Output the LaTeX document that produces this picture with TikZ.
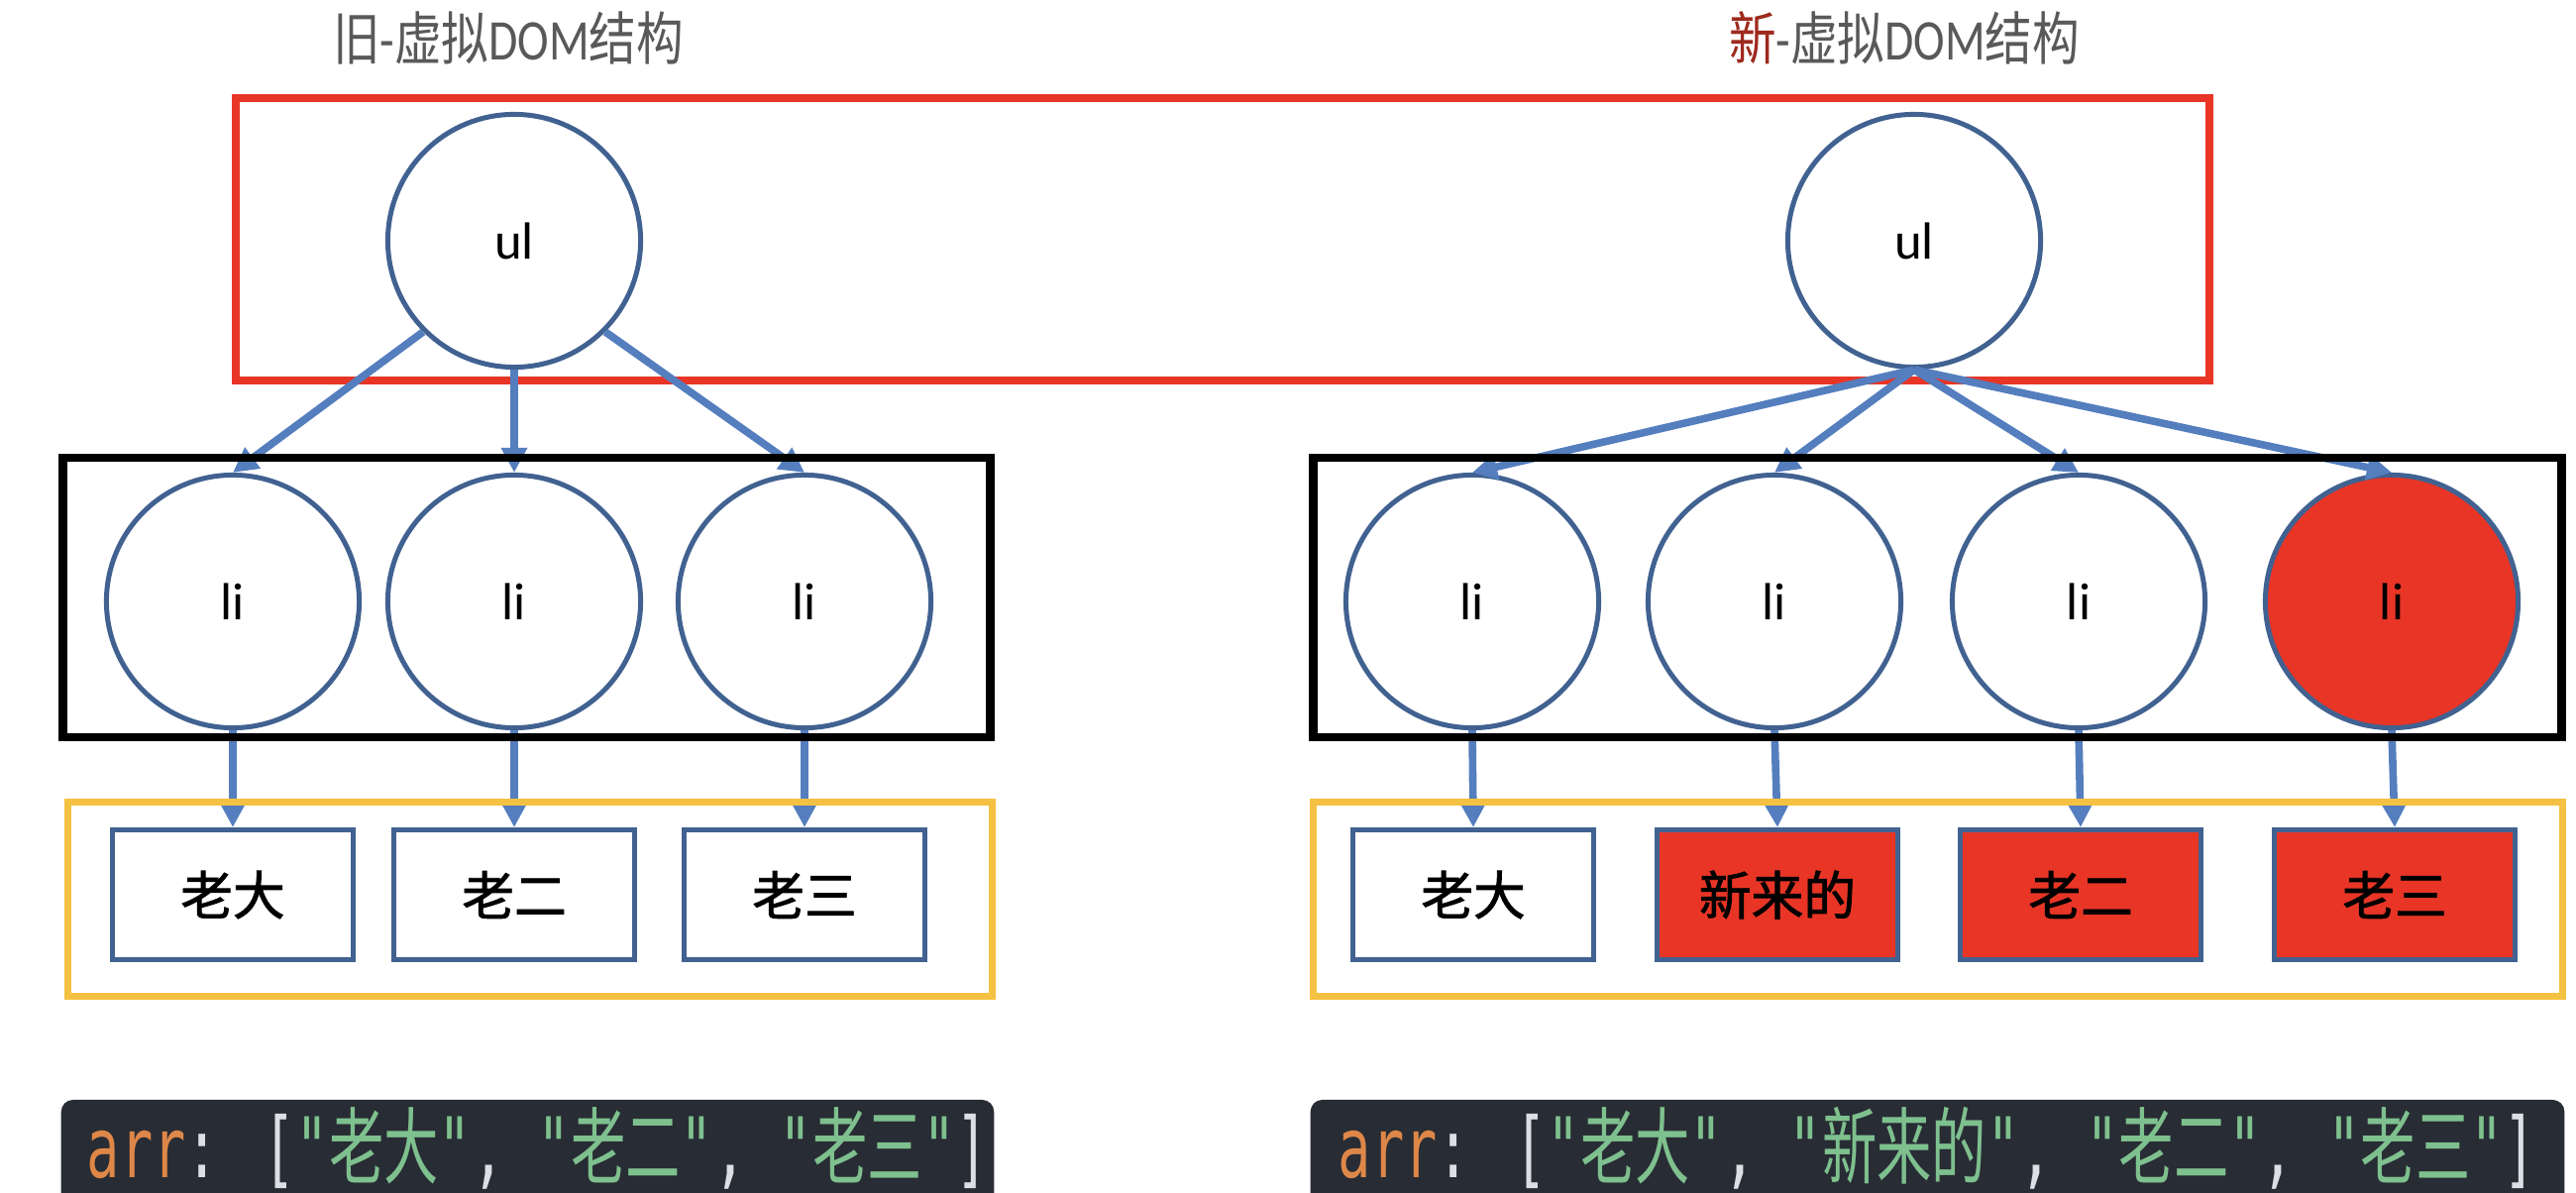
\documentclass[tikz,border=0pt]{standalone}
\usepackage{fontspec}
\setmainfont{Carlito}
\newfontfamily\cjk{Noto Sans CJK SC}
\newfontfamily\cjkbold[FakeBold=1.6]{Noto Sans CJK SC}
\newfontfamily\codemono{DejaVu Sans Mono}
\usetikzlibrary{arrows.meta}
\definecolor{nodeblue}{RGB}{65,98,145}
\definecolor{linkblue}{RGB}{84,126,190}
\definecolor{hotred}{RGB}{232,53,38}
\definecolor{gold}{RGB}{245,193,66}
\definecolor{titlegray}{RGB}{89,89,89}
\definecolor{newred}{RGB}{158,42,30}
\definecolor{codebgc}{RGB}{40,44,52}
\definecolor{codeorange}{RGB}{222,135,72}
\definecolor{codegreen}{RGB}{126,192,142}
\definecolor{codewhite}{RGB}{220,223,228}
\begin{document}
\begin{tikzpicture}[x=0.01cm,y=-0.01cm,
  frame/.style={draw, rectangle, inner sep=0pt, fill=none},
  treenode/.style={circle, draw=nodeblue, line width=0.05cm, fill=white, minimum size=2.55cm, inner sep=0pt, font=\fontsize{15}{18}\selectfont},
  valbox/.style={rectangle, draw=nodeblue, line width=0.05cm, fill=white, minimum width=2.43cm, minimum height=1.31cm, inner sep=0pt, font=\cjkbold\fontsize{15}{18}\selectfont},
  link/.style={draw=linkblue, line width=0.076cm, -{Triangle[width=0.25cm,length=0.25cm]}},
  title/.style={text=titlegray, inner sep=0pt, font=\fontsize{16.5}{19}\selectfont},
  codebg/.style={rectangle, fill=codebgc, rounded corners=0.12cm, inner sep=0pt, minimum height=1.6cm},
  codetext/.style={inner sep=0pt, text=codewhite, font=\codemono\fontsize{24}{28}\selectfont}
]
\useasboundingbox[fill=white] (0,0) rectangle (2600,1204);

% titles
\node[title] (oldtitle) at (513,38) {\scalebox{0.82}[1]{{\cjk 旧}-{\cjk 虚拟}DOM{\cjk 结构}}};
\node[title] (newtitle) at (1922,38) {\scalebox{0.82}[1]{{\cjk\color{newred}新}-{\cjk 虚拟}DOM{\cjk 结构}}};

% red frame
\node[frame, draw=hotred, line width=0.08cm, minimum width=19.90cm, minimum height=2.85cm] (rootframe) at (1234,241.5) {};

% old tree
\node[treenode] (oldul) at (519,243) {ul};
\node[treenode] (oldli1) at (235,607) {li};
\node[treenode] (oldli2) at (519,607) {li};
\node[treenode] (oldli3) at (812,607) {li};
\node[valbox] (oldv1) at (235,903) {老大};
\node[valbox] (oldv2) at (519,903) {老二};
\node[valbox] (oldv3) at (812,903) {老三};

% new tree
\node[treenode] (newul) at (1932,243) {ul};
\node[treenode] (newli1) at (1486,607) {li};
\node[treenode] (newli2) at (1791,607) {li};
\node[treenode] (newli3) at (2098,607) {li};
\node[treenode, fill=hotred] (newli4) at (2414,607) {li};
\node[valbox] (newv1) at (1487,903) {老大};
\node[valbox, fill=hotred] (newv2) at (1794,903) {新来的};
\node[valbox, fill=hotred] (newv3) at (2100,903) {老二};
\node[valbox, fill=hotred] (newv4) at (2417,903) {老三};

% links
\draw[link] (oldul.south west) -- (oldli1.north);
\draw[link] (oldul.south) -- (oldli2.north);
\draw[link] (oldul.south east) -- (oldli3.north);
\draw[link] (oldli1.south) -- (oldv1.north);
\draw[link] (oldli2.south) -- (oldv2.north);
\draw[link] (oldli3.south) -- (oldv3.north);

\draw[link] (newul.south) -- (newli1.north);
\draw[link] (newul.south) -- (newli2.north);
\draw[link] (newul.south) -- (newli3.north);
\draw[link] (newul.south) -- (newli4.north);
\draw[link] (newli1.south) -- (newv1.north);
\draw[link] (newli2.south) -- (newv2.north);
\draw[link] (newli3.south) -- (newv3.north);
\draw[link] (newli4.south) -- (newv4.north);

% black and yellow frames
\node[frame, draw=black, line width=0.085cm, minimum width=9.35cm, minimum height=2.82cm] (oldliframe) at (531.5,603) {};
\node[frame, draw=black, line width=0.085cm, minimum width=12.59cm, minimum height=2.82cm] (newliframe) at (1955.5,603) {};
\node[frame, draw=gold, line width=0.07cm, minimum width=9.33cm, minimum height=1.96cm] (oldvalframe) at (535,907.5) {};
\node[frame, draw=gold, line width=0.07cm, minimum width=12.61cm, minimum height=1.96cm] (newvalframe) at (1956,907.5) {};

% code boxes
\node[codebg, minimum width=9.41cm] (oldcode) at (532.5,1190) {};
\node[codebg, minimum width=12.65cm] (newcode) at (1955.5,1190) {};
\node[codetext, anchor=base west] (oldcodetext) at (87,1188) {\scalebox{0.656}[1]{\color{codeorange}arr\color{codewhite}: [\color{codegreen}"{\cjk 老大}"\color{codewhite}, \color{codegreen}"{\cjk 老二}"\color{codewhite}, \color{codegreen}"{\cjk 老三}"\color{codewhite}]}};
\node[codetext, anchor=base west] (newcodetext) at (1350,1188) {\scalebox{0.656}[1]{\color{codeorange}arr\color{codewhite}: [\color{codegreen}"{\cjk 老大}"\color{codewhite}, \color{codegreen}"{\cjk 新来的}"\color{codewhite}, \color{codegreen}"{\cjk 老二}"\color{codewhite}, \color{codegreen}"{\cjk 老三}"\color{codewhite}]}};
\end{tikzpicture}
\end{document}
